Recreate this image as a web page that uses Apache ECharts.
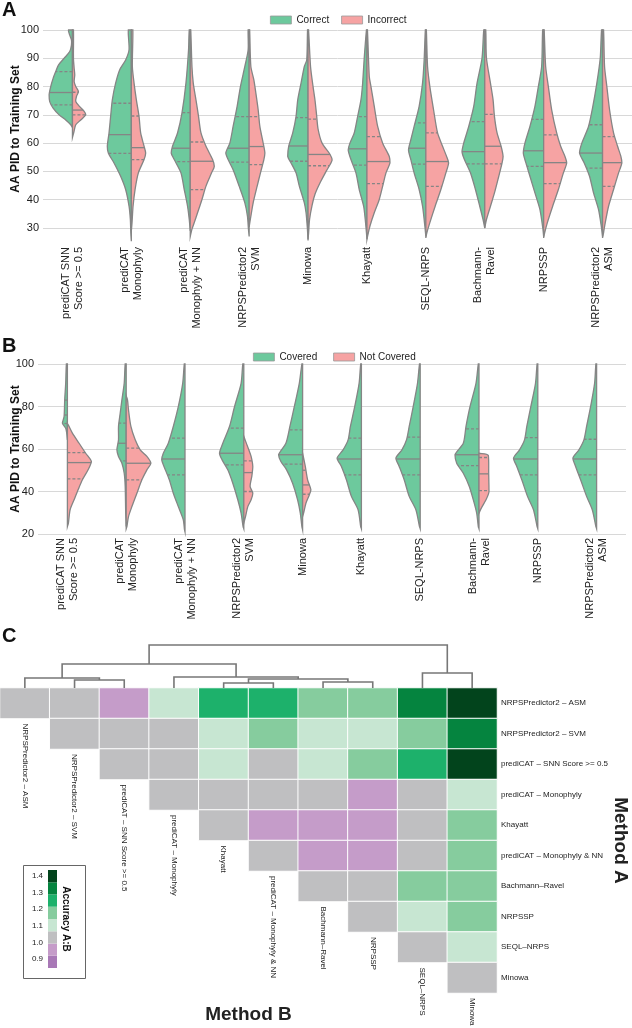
<!DOCTYPE html>
<html><head><meta charset="utf-8">
<script src="https://cdn.jsdelivr.net/npm/echarts@6/dist/echarts.min.js"></script>
<style>html,body{margin:0;padding:0;background:#fff}#c{width:632px;height:1028px}</style>
</head><body><div id="c"></div>
<script>
// ---------- DATA ----------
const violinCategories = ['prediCAT SNN\nScore >= 0.5','prediCAT\nMonophyly','prediCAT\nMonophyly + NN','NRPSPredictor2\nSVM','Minowa','Khayatt','SEQL-NRPS','Bachmann-\nRavel','NRPSSP','NRPSPredictor2\nASM'];
const yTicksA = [30, 100, 10];
const yTicksB = [20, 100, 20];

// density profiles: [AA PID value, density] from top to bottom
const correctProfiles = [
 [[100,4],[98.2,2.7],[96.5,1],[94.7,1],[92.4,2.7],[90,8.3],[87.6,14],[85.3,16.7],[82.9,19.3],[80,21.7],[77.1,23.3],[74.7,22.7],[72.4,19.3],[70,13.3],[68.2,6.7],[66.5,1.7],[65.5,0]],
 [[100,3],[93,2.3],[89.4,5.7],[85.9,11.7],[81.2,15.7],[75.3,19],[69.4,20.7],[63.6,22.3],[58.9,24],[56.5,23],[53,17.3],[48.3,10.7],[43.6,5.7],[37.7,2.3],[33,1],[28,0.5],[25.3,0]],
 [[100,1],[93,1.7],[81.2,4.3],[70.6,8.3],[63.6,12.7],[58.9,17.7],[56.5,19],[54.2,16],[49.5,9.3],[43.6,6],[37.7,2.7],[33,1],[29,0]],
 [[100,1],[93,1],[87.1,4.3],[80,8.7],[73,12],[65.9,16],[60,19.3],[56.5,23.3],[54.2,21],[50.6,16],[44.8,10],[38.9,4.3],[34.2,1.7],[29.6,0.7],[27,0]],
 [[100,0.5],[89.4,1.3],[87.1,3.7],[81.2,7],[75.3,10.3],[69.4,12],[63.6,15.3],[58.9,19.3],[55.3,20.3],[53,17],[49.5,12],[44.8,8.7],[38.9,3.7],[35.4,2],[30,0.7],[25.6,0]],
 [[100,0.5],[90.1,2.7],[81.2,4.3],[75.3,6],[69.4,9.3],[63.6,12.7],[60,17],[57.6,18.7],[54.2,16],[49.5,11],[43.6,7.7],[37.7,3.3],[33,1.7],[28.3,0.5],[26,0]],
 [[100,0.5],[89.4,1.7],[81.2,3.3],[73,6.7],[65.9,11.7],[61.2,15],[57.6,17.3],[54.2,15],[49.5,11.7],[43.6,6.7],[37.7,3.3],[30.7,1],[27,0]],
 [[100,1],[90.1,2.7],[81.2,7.7],[73,11],[65.9,16],[60,21],[57,22.7],[54.2,20.3],[49.5,14.3],[43.6,9.3],[37.7,5],[33,1.7],[30,0]],
 [[100,1],[87.1,2],[80,5.3],[73,8.7],[65.9,13.7],[60,18.7],[56.5,20.3],[53,17.7],[48.3,13.7],[42.4,8.7],[36.5,3.7],[29.6,0.7],[27,0]],
 [[100,1],[90.1,2.3],[81.2,5.7],[73,9.7],[65.9,14],[60,20.7],[56.5,23],[53,18.3],[48.3,13],[42.4,9],[36.5,4],[30.7,1.3],[27,0]]
];
const correctQuartiles = [[73.5,77.9,85.3],[56.4,63,74.1],[53.5,58.2,70.8],[53.3,58.2,69.4],[53.6,59,69],[52.2,58,69.4],[52.6,58.2,67.2],[52.7,57,67.6],[51.8,57.3,68.4],[51.2,56.5,66.5]];

const incorrectProfiles = [
 [[100,1],[90,1],[86.5,1.7],[84.1,2.3],[81.8,1.7],[80,3.3],[78.2,6],[76.5,4],[74.7,3.3],[72.9,7.3],[71.2,11.7],[70,13.3],[68.2,8.3],[66.5,3.3],[64,1.5],[62,0]],
 [[100,1.5],[87.1,1],[81.2,2.7],[75.3,5],[69.4,7.7],[63.6,9.3],[58.9,12.7],[56.5,14.3],[54.2,12.7],[49.5,7],[43.6,3.7],[37.7,1.7],[32,0.7],[29,0]],
 [[100,0.5],[87.1,1.7],[81.2,3],[75.3,5.7],[69.4,8.3],[63.6,10.7],[58.9,15.7],[54.2,22.3],[51.8,24],[49.5,21.3],[44.8,15.7],[40.1,11.7],[35.4,7.3],[31.9,4],[29.6,1.7],[27,0]],
 [[100,0.5],[87.1,1.7],[82.4,4.7],[77.7,6.7],[71.8,9],[65.9,10.7],[60,14],[56.5,15.7],[54.2,14.7],[49.5,11.3],[44.8,8],[38.9,4],[34.2,1.7],[30.4,0]],
 [[100,0.5],[87,2.5],[80,5],[75,7],[70,8.5],[65,10],[60,14],[56,22],[54,24],[50,18],[46,12],[42,7],[38,4],[33,1.5],[28,0.5],[26,0]],
 [[100,0.5],[83.6,2.3],[80,4],[73,7.3],[65.9,10.7],[60,15.7],[55.3,22.3],[53,23],[49.5,19],[44.8,15.7],[40.1,12.3],[35.4,7.3],[30.7,3],[27.2,0.7],[26,0]],
 [[100,0.5],[87.1,1.7],[80,4],[71.8,7.7],[63.6,11.7],[58.9,16.7],[55.3,20.7],[53,22.7],[49.5,20],[43.6,15],[37.7,9.3],[31.9,4],[28.3,1],[26.5,0]],
 [[100,1],[90.1,1.7],[81.2,5.7],[75.3,8.3],[69.4,9.7],[63.6,12.3],[58.9,16.3],[55.3,18.3],[53,17.3],[48.3,14],[42.4,9.7],[37.7,5.7],[33,1.7],[30,0]],
 [[100,0.5],[87.1,2],[80,4.7],[71.8,8],[63.6,13],[58.9,17],[55.3,21.3],[53,23],[49.5,19.7],[43.6,14.7],[37.7,9],[31.9,3.7],[28.3,1],[26.5,0]],
 [[100,1],[87.1,2],[80,4.3],[71.8,7],[63.6,11],[58.9,15],[55.3,18.3],[53,19.3],[49.5,16],[43.6,11],[37.7,6],[31.9,2.7],[28.3,1],[26.5,0]]
];
const incorrectQuartiles = [[70,71.7,78],[54.2,58.4,69.6],[43.6,53.6,60.4],[52.4,58.8,69.4],[52,56,68.5],[45.7,53.5,62.3],[44.7,53.5,63.6],[52.7,58.9,70.2],[45.7,53.1,62.9],[44.7,53.1,62.3]];

const coveredProfiles = [
 [[100,1],[90.9,1.7],[83.1,2.7],[75.3,3.3],[72.2,5],[69.8,1.7],[67.5,0.7],[64.3,0]],
 [[100,1],[90.9,2],[83.1,4.3],[76.9,6],[70.6,7.7],[64.3,7.7],[59.6,9.3],[56.5,7.7],[53.3,4.3],[48.6,2],[42.4,1],[30,0.5],[23.5,0]],
 [[100,0.7],[90.9,2.3],[79.9,6.7],[70.6,11.7],[62.7,16.7],[58,21.7],[54.9,23.3],[51.8,21],[45.5,15.7],[39.2,11.7],[32.9,6.7],[26.7,1.7],[22,0.5],[21,0]],
 [[100,1],[90.9,2.7],[79.9,9.3],[70.6,14.3],[62.7,21],[58,24.3],[54.9,21.7],[50.2,16],[43.9,11],[36.1,6],[29.8,2.7],[23.5,0.7],[22.5,0]],
 [[100,0.7],[90.9,3.3],[79.9,8.3],[70.6,12.7],[62.7,16.7],[57.3,24],[54.1,21.7],[50.2,16],[43.9,10],[36.1,5],[29.8,2.3],[23.5,0.7],[22,0]],
 [[100,0.7],[90.9,2.3],[79.9,6.7],[70.6,11],[64.3,13.3],[59.6,18.3],[55.7,24.3],[51.8,20],[45.5,15],[37.7,10],[31.4,3.3],[23.5,0.7],[22.5,0]],
 [[100,0.7],[90.9,2.7],[79.9,7],[70.6,11],[64.3,13.7],[59.6,18.3],[55.7,24.3],[51.8,21],[45.5,16],[37.7,11],[31.4,4.3],[23.5,0.7],[22.5,0]],
 [[100,0.7],[90.9,3],[79.9,9],[70.6,13],[62.7,15.7],[57.3,24],[53.3,22.3],[48.6,15.7],[42.4,9.7],[36.1,5.7],[29.8,2.3],[23.5,0.7],[22.5,0]],
 [[100,0.7],[90.9,2.3],[79.9,7],[70.6,11],[64.3,13.3],[59.6,18.3],[55.7,24.3],[51.8,21],[45.5,16],[37.7,10.3],[31.4,4.3],[23.5,0.7],[22.5,0]],
 [[100,0.7],[90.9,2],[79.9,6],[70.6,10],[64.3,12.7],[59.6,17.7],[55.7,23.7],[51.8,21],[45.5,16],[37.7,10],[31.4,4.3],[23.5,0.7],[22.5,0]]
];
const coveredQuartiles = [[72,76,83],[54.4,62.7,72.2],[47.8,55.3,65.1],[52.5,58,69.8],[52.9,57.3,69],[47.8,55.3,65.1],[47.8,55.3,65.6],[52.2,57.3,69.5],[47.8,55.3,65.4],[47.8,55.3,64.6]];

const notCoveredProfiles = [
 [[72,0],[70.6,1.7],[67.5,5],[62.7,11.7],[58,18.3],[54.1,24],[50.2,20.7],[45.5,15],[40.8,10.7],[36.1,6.7],[31.4,2.7],[25.1,1],[23.5,0]],
 [[85,0],[83.1,1.3],[78.4,2.3],[70.6,4.7],[64.3,9],[59.6,14],[56.5,20.7],[53.3,24.7],[50.2,20.7],[45.5,15.7],[39.2,10.7],[32.9,5.7],[28.2,2.3],[23.5,0.7],[22.5,0]],
 null,
 [[66,0],[64.3,1.3],[59.6,5],[56.5,7.3],[51.8,9],[47.1,8],[42.4,6.3],[39.2,9],[36.1,7.3],[32.9,4],[28.2,1.7],[25.1,0]],
 [[58,0],[56.5,0.7],[51.8,2.7],[45.5,5],[40.8,8.3],[38.4,6.7],[34.5,3.3],[29.8,1],[28.2,0]],
 null, null,
 [[58,0],[57,9.3],[48.6,9.7],[39.9,10],[36.1,7],[32.2,2.3],[29.8,0]],
 null, null
];
const notCoveredQuartiles = [[45.9,53.6,58.3],[45.5,53.3,60.4],null,[40,48.9,54.4],[38.7,43.1,50],null,null,[40.4,48.3,56],null,null];

// heatmap
const methods = ['NRPSPredictor2 – ASM','NRPSPredictor2 – SVM','prediCAT – SNN Score >= 0.5','prediCAT – Monophyly','Khayatt','prediCAT – Monophyly & NN','Bachmann–Ravel','NRPSSP','SEQL–NRPS','Minowa'];
const accuracyRatio = [
 [1.00,1.03,0.96,1.10,1.25,1.25,1.18,1.18,1.32,1.40],
 [null,1.00,1.03,1.03,1.10,1.18,1.10,1.10,1.18,1.32],
 [null,null,1.00,1.03,1.10,1.03,1.10,1.18,1.25,1.40],
 [null,null,null,1.00,1.03,1.03,1.03,0.96,1.03,1.10],
 [null,null,null,null,1.00,0.96,0.96,0.96,1.03,1.18],
 [null,null,null,null,null,1.00,0.96,0.96,1.03,1.18],
 [null,null,null,null,null,null,1.00,1.03,1.18,1.18],
 [null,null,null,null,null,null,null,1.00,1.10,1.18],
 [null,null,null,null,null,null,null,null,1.00,1.10],
 [null,null,null,null,null,null,null,null,null,1.00]
];
// dendrogram merges: [child, child, height]; leaves 0-9, merges numbered from 10
const merges = [[1,2,8],[0,10,10],[4,5,5],[6,7,6],[12,13,9],[3,14,11],[11,15,24],[8,9,15],[16,17,43]];
// colour scale breaks
const colorBreaks = [0.846,0.920,0.993,1.067,1.141,1.215,1.289,1.362,1.436];
const colorLabels = [0.9,1.0,1.1,1.2,1.3,1.4];

// ---------- STYLE ----------
const FONT = '"Liberation Sans", Arial, Helvetica, sans-serif';
const GREEN = '#6dc99d', PINK = '#f6a3a3', OUTLINE = '#858585';
const STEP_COLORS = ['#a878b6','#c59cc9','#bfbfc1','#c7e6d2','#86cc9e','#1db16b','#05843f','#02441c'];
const DMAX = 24.7, MAX_HALF = 0.42;

function interp(prof, v){
  for (let j=0;j<prof.length-1;j++){
    const a=prof[j], b=prof[j+1];
    if (v<=a[0] && v>=b[0]) { const t=(a[0]-v)/((a[0]-b[0])||1); return a[1]+(b[1]-a[1])*t; }
  }
  return 0;
}
function violin(name, color, profiles, quarts, side, gi){
  return {
    type:'custom', name, xAxisIndex:gi, yAxisIndex:gi, silent:true, z:3,
    itemStyle:{color},
    data: profiles.map((p,i)=> p ? [i, quarts[i][1]] : null).filter(d=>d),
    renderItem(params, api){
      const i = api.value(0), prof = profiles[i], q = quarts[i];
      if (!prof) return null;
      const band = api.size([1,0])[0];
      const k = MAX_HALF*band/DMAX;
      const cx = api.coord([i, 50])[0];
      const edge = prof.map(([v,d]) => [cx + side*d*k, api.coord([i, v])[1]]);
      const yT = edge[0][1], yB = edge[edge.length-1][1];
      const pts = [[cx, yT], ...edge, [cx, yB]];
      const children = [{type:'polygon', shape:{points:pts, smooth:0.25, smoothConstraint:[[cx,yT],[cx,yB]]},
        style:{fill:color, stroke:OUTLINE, lineWidth:1.3}}];
      q.forEach((qv,j)=>{
        const w = interp(prof, qv)*k, y = api.coord([i, qv])[1];
        children.push({type:'line', shape:{x1:cx, y1:y, x2:cx+side*w, y2:y},
          style:{stroke:OUTLINE, lineWidth:1.3, lineDash: j===1 ? null : [3,2]}});
      });
      return {type:'group', children};
    }
  };
}

// dendrogram layout from merge table
const nodeX = [], nodeH = [];
for (let i=0;i<methods.length;i++){ nodeX[i]=i+0.5; nodeH[i]=0; }
merges.forEach((m,k)=>{ const id=methods.length+k; nodeX[id]=(nodeX[m[0]]+nodeX[m[1]])/2; nodeH[id]=m[2]; });

const heatData = [];
accuracyRatio.forEach((row,r)=>row.forEach((v,c)=>{ if(v!==null) heatData.push([c,r,v]); }));

const axisText = {fontFamily:FONT, color:'#222'};
const valueAxisCommon = {axisLine:{show:false}, axisTick:{show:false},
  splitLine:{lineStyle:{color:'#d8d8d8', width:1}},
  axisLabel:{...axisText, fontSize:11, margin:4},
  name:'AA PID to Training Set', nameLocation:'middle', nameMoveOverlap:false,
  nameTextStyle:{fontFamily:FONT, fontSize:12, fontWeight:'bold', color:'#111'}};
const catAxisCommon = {type:'category', data:violinCategories, axisLine:{show:false}, axisTick:{show:false},
  axisLabel:{...axisText, fontSize:11, lineHeight:13, rotate:90, interval:0}};
const G = {outerBoundsMode:'none', containLabel:false};

const option = {
  animation:false,
  textStyle:{fontFamily:FONT},
  title:[
    {text:'A', left:2, top:0, padding:0, textStyle:{fontSize:20, fontWeight:'bold', color:'#111', fontFamily:FONT}},
    {text:'B', left:2, top:336, padding:0, textStyle:{fontSize:20, fontWeight:'bold', color:'#111', fontFamily:FONT}},
    {text:'C', left:2, top:626, padding:0, textStyle:{fontSize:20, fontWeight:'bold', color:'#111', fontFamily:FONT}}
  ],
  legend:[
    {data:['Correct','Incorrect'], left:270, top:15, padding:0, icon:'rect', itemWidth:21, itemHeight:8, itemGap:12,
     itemStyle:{borderColor:'#999', borderWidth:0.8}, textStyle:{fontSize:10, color:'#222', fontFamily:FONT}},
    {data:['Covered','Not Covered'], left:253, top:352, padding:0, icon:'rect', itemWidth:21, itemHeight:8, itemGap:16,
     itemStyle:{borderColor:'#999', borderWidth:0.8}, textStyle:{fontSize:10, color:'#222', fontFamily:FONT}}
  ],
  grid:[
    {...G, left:43, top:30, width:589, height:198},
    {...G, left:38, top:364, width:588, height:170},
    {...G, left:0, top:688, width:497, height:305},
    {...G, left:0, top:640, width:497, height:48},
    {...G, left:48, top:870, width:9, height:98}
  ],
  xAxis:[
    {...catAxisCommon, gridIndex:0, axisLabel:{...catAxisCommon.axisLabel, margin:19}},
    {...catAxisCommon, gridIndex:1, axisLabel:{...catAxisCommon.axisLabel, margin:4}},
    {type:'category', gridIndex:2, data:methods, axisLine:{show:false}, axisTick:{show:false}, axisLabel:{show:false},
     name:'Method B', nameLocation:'middle', nameGap:12, nameMoveOverlap:false,
     nameTextStyle:{fontFamily:FONT, fontSize:19, fontWeight:'bold', color:'#222'}},
    {type:'value', gridIndex:3, min:0, max:10, show:false},
    {type:'value', gridIndex:4, min:0, max:1, show:false}
  ],
  yAxis:[
    {...valueAxisCommon, type:'value', gridIndex:0, min:yTicksA[0], max:yTicksA[1], interval:yTicksA[2], nameGap:21},
    {...valueAxisCommon, type:'value', gridIndex:1, min:yTicksB[0], max:yTicksB[1], interval:yTicksB[2], nameGap:16},
    {type:'category', gridIndex:2, data:methods, inverse:true, position:'right', axisLine:{show:false}, axisTick:{show:false},
     axisLabel:{...axisText, fontSize:8, margin:4},
     name:'Method A', nameLocation:'middle', nameRotate:-90, nameGap:114, nameMoveOverlap:false,
     nameTextStyle:{fontFamily:FONT, fontSize:19, fontWeight:'bold', color:'#222'}},
    {type:'value', gridIndex:3, min:0, max:48, show:false},
    {type:'value', gridIndex:4, min:colorBreaks[0], max:colorBreaks[colorBreaks.length-1],
     axisLine:{show:false}, axisTick:{show:false}, splitLine:{show:false},
     axisLabel:{...axisText, fontSize:8, margin:5, customValues:colorLabels, formatter:v=>Number(v).toFixed(1)}}
  ],
  visualMap:{type:'piecewise', show:false, seriesIndex:4, dimension:2,
    pieces: colorBreaks.slice(0,-1).map((lo,i)=>({gte:lo, lt:colorBreaks[i+1], color:STEP_COLORS[i]}))},
  graphic:[
    {type:'rect', left:21, top:863, shape:{width:62, height:113}, style:{fill:'none', stroke:'#666', lineWidth:1}, silent:true},
    {type:'text', x:66, y:919, rotation:-Math.PI/2, silent:true,
     style:{text:'Accuracy A:B', font:'bold 10px '+FONT, fill:'#111', textAlign:'center', textVerticalAlign:'middle'}}
  ],
  series:[
    violin('Correct', GREEN, correctProfiles, correctQuartiles, -1, 0),
    violin('Incorrect', PINK, incorrectProfiles, incorrectQuartiles, 1, 0),
    violin('Covered', GREEN, coveredProfiles, coveredQuartiles, -1, 1),
    violin('Not Covered', PINK, notCoveredProfiles, notCoveredQuartiles, 1, 1),
    {type:'heatmap', xAxisIndex:2, yAxisIndex:2, data:heatData, silent:true,
     itemStyle:{borderColor:'#ffffff', borderWidth:1}, emphasis:{disabled:true}},
    {type:'custom', xAxisIndex:2, yAxisIndex:2, silent:true, data:methods.map((m,i)=>[i,i]),
     renderItem(params, api){
       const i = api.value(0), c = api.coord([i,i]), s = api.size([1,1]);
       return {type:'text', x:c[0], y:c[1]+s[1]/2+5, rotation:-Math.PI/2,
         style:{text:methods[i], font:'8px '+FONT, fill:'#222', textAlign:'left', textVerticalAlign:'middle'}};
     }},
    {type:'custom', xAxisIndex:3, yAxisIndex:3, silent:true,
     data: merges.map((m,k)=>[nodeX[methods.length+k], m[2], k]),
     renderItem(params, api){
       const k = api.value(2), m = merges[k];
       const a = m[0], b = m[1];
       const p1 = api.coord([nodeX[a], nodeH[a]]), p2 = api.coord([nodeX[a], m[2]]);
       const p3 = api.coord([nodeX[b], m[2]]), p4 = api.coord([nodeX[b], nodeH[b]]);
       return {type:'polyline', shape:{points:[p1,p2,p3,p4]}, style:{stroke:'#777', lineWidth:1.6, fill:null}};
     }},
    {type:'custom', xAxisIndex:4, yAxisIndex:4, silent:true,
     data: colorBreaks.slice(0,-1).map((lo,i)=>[0.5, lo, colorBreaks[i+1], i]),
     renderItem(params, api){
       const i = api.value(3);
       const a = api.coord([0, api.value(2)]), b = api.coord([1, api.value(1)]);
       return {type:'rect', shape:{x:a[0], y:a[1], width:b[0]-a[0], height:b[1]-a[1]}, style:{fill:STEP_COLORS[i]}};
     }}
  ]
};
const chart = echarts.init(document.getElementById('c'), null, {renderer:'canvas'});
chart.setOption(option);
</script></body></html>
